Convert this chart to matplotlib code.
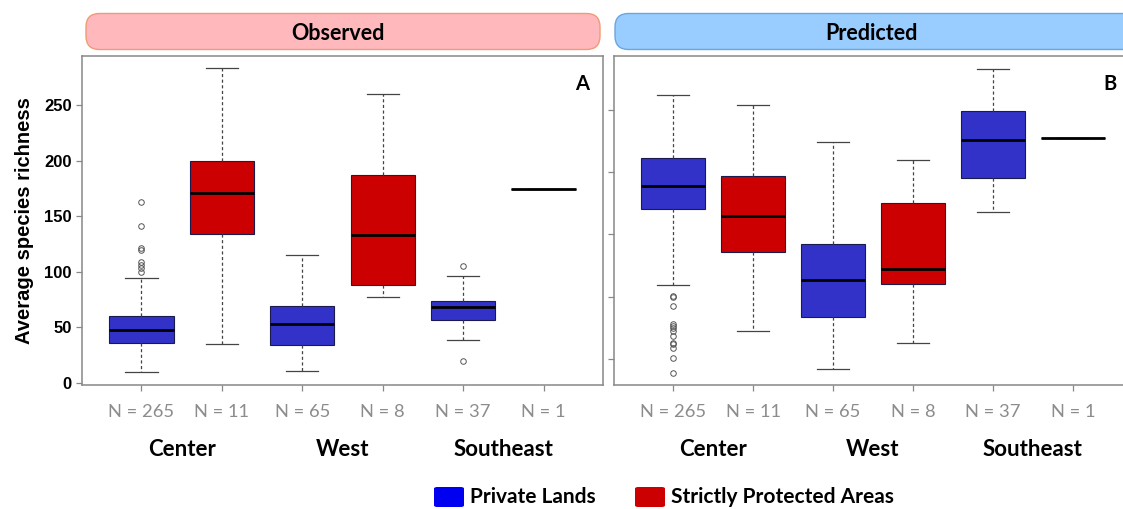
import matplotlib
matplotlib.use("Agg")
import matplotlib.pyplot as plt
from matplotlib.patches import FancyBboxPatch
from matplotlib import transforms

# ---- data ----
groups = ["Center", "West", "Southeast"]
n_labels = ["N = 265", "N = 11", "N = 65", "N = 8", "N = 37", "N = 1"]
kinds = ["Private Lands", "Strictly Protected Areas"]

# box stats per box: whislo, q1, med, q3, whishi
obs_stats = [
    [10, 36, 48, 60, 94],
    [35, 134, 171, 200, 283],
    [11, 34, 53, 69, 115],
    [77, 88, 133, 187, 260],
    [39, 57, 68, 74, 96],
    [174, 174, 174, 174, 174],
]
obs_fliers = [
    [163, 141, 121, 120, 109, 106, 103, 100],
    [],
    [],
    [],
    [105, 20],
    [],
]
pred_stats = [
    [109, 170, 189, 211, 262],
    [72, 136, 165, 197, 254],
    [42, 84, 113, 142, 224],
    [63, 110, 122, 175, 210],
    [168, 195, 226, 249, 283],
    [227, 227, 227, 227, 227],
]
pred_fliers = [
    [100.6, 99.8, 92.5, 77.8, 76.5, 74.6, 72.5, 68.5, 63.1, 61.8, 59.1, 51, 39],
    [], [], [], [], [],
]

BLUE = "#3232C8"
RED = "#CC0000"
LEG_BLUE = "#0000F0"
W, H = 1123, 509
fig = plt.figure(figsize=(W / 100, H / 100), dpi=100)


def fr(x0, y0, x1, y1):
    # pixel box -> figure fraction rect
    return [x0 / W, 1 - y1 / H, (x1 - x0) / W, (y1 - y0) / H]


def draw_panel(ax, stats, fliers, ylim, letter_xy, letter, show_labels):
    bxs = []
    for s, f in zip(stats, fliers):
        bxs.append(dict(whislo=s[0], q1=s[1], med=s[2], q3=s[3], whishi=s[4], fliers=f))
    art = ax.bxp(bxs, positions=range(1, 7), widths=0.8, capwidths=0.4,
                 patch_artist=True, showfliers=True,
                 boxprops=dict(edgecolor="#1a1a4d", linewidth=0.8),
                 medianprops=dict(color="black", linewidth=2.0, solid_capstyle="butt"),
                 whiskerprops=dict(color="#444444", linewidth=0.9, linestyle=(0, (2.5, 2))),
                 capprops=dict(color="#444444", linewidth=0.9),
                 flierprops=dict(marker="o", markersize=4, markerfacecolor="none",
                                 markeredgecolor="#555555", markeredgewidth=0.7))
    for i, b in enumerate(art["boxes"]):
        b.set_facecolor(BLUE if i % 2 == 0 else RED)
    ax.set_xlim(0.26, 6.74)
    ax.set_ylim(*ylim)
    ax.set_xticks(range(1, 7))
    ax.set_xticklabels([])
    ax.set_yticks([0, 50, 100, 150, 200, 250] if show_labels else [50, 100, 150, 200, 250])
    if not show_labels:
        ax.set_yticklabels([])
    for sp in ax.spines.values():
        sp.set_color("#888888")
        sp.set_linewidth(1.1)
    ax.tick_params(length=4.5, width=0.9, color="#888888", direction="out",
                   labelsize=12, pad=3)
    for t in ax.get_yticklabels():
        t.set_fontfamily("Liberation Sans")
        t.set_fontweight("bold")
    fig.text(letter_xy[0] / W, 1 - letter_xy[1] / H, letter, ha="center", va="center",
             fontsize=14.5, fontweight="bold", family="Lato")

    tr = transforms.blended_transform_factory(ax.transData, fig.transFigure)
    for i, lab in enumerate(n_labels):
        ax.text(i + 1, 1 - 412 / H, lab, transform=tr, ha="center", va="center",
                fontsize=13.2, color="#8c8c8c", family="Lato", clip_on=False)
    for j, g in enumerate(groups):
        ax.text(2 * j + 1.5, 1 - 450 / H, g, transform=tr, ha="center", va="center",
                fontsize=16, fontweight="bold", family="Lato", clip_on=False)


ax1 = fig.add_axes(fr(82, 56, 603, 384.5))
draw_panel(ax1, obs_stats, obs_fliers, (-1.3, 294), (582, 84), "A", True)
ax1.set_ylabel("Average species richness", fontsize=14.5, fontweight="bold",
               family="Liberation Sans", labelpad=7)

ax2 = fig.add_axes(fr(614, 56, 1132, 384.5))
draw_panel(ax2, pred_stats, pred_fliers, (29.4, 293.2), (1110, 84), "B", False)

# header strips
for (x0, x1, cx, label, fc, ec) in [(86, 600, 338, "Observed", "#FFB8BC", "#F09A78"),
                                    (615, 1140, 871, "Predicted", "#99CCFF", "#6AA6E0")]:
    fig.patches.append(FancyBboxPatch((x0 / W, 1 - 49.5 / H), (x1 - x0) / W, 36 / H,
                                      boxstyle="round,pad=0,rounding_size=0.012",
                                      transform=fig.transFigure, facecolor=fc,
                                      edgecolor=ec, linewidth=1.0, mutation_aspect=2.2))
    fig.text(cx / W, 1 - 33 / H, label,
             ha="center", va="center", fontsize=15.5, fontweight="bold", family="Lato")

# legend
for x0, col, lab in [(434, LEG_BLUE, kinds[0]), (635, RED, kinds[1])]:
    fig.patches.append(FancyBboxPatch((x0 / W, 1 - 507 / H), 30 / W, 20 / H,
                                      boxstyle="round,pad=0,rounding_size=0.003",
                                      transform=fig.transFigure, facecolor=col,
                                      edgecolor="none"))
    fig.text((x0 + 36) / W, 1 - 497 / H, lab, ha="left", va="center",
             fontsize=15, fontweight="bold", family="Lato")

fig.savefig("out.png", dpi=100)
